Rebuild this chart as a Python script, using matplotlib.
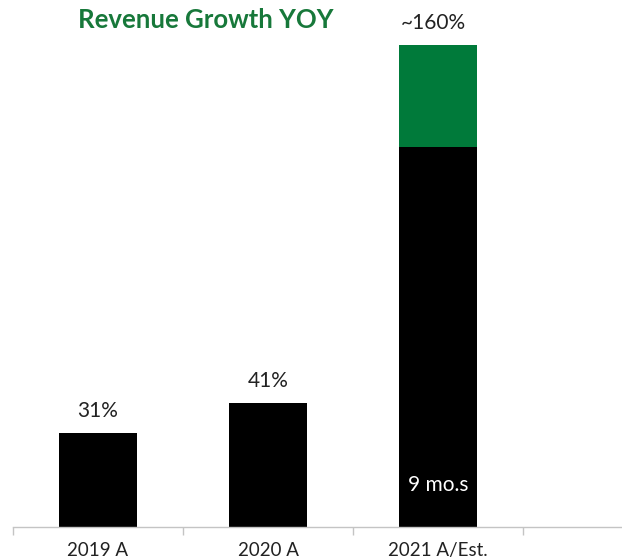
import matplotlib.pyplot as plt
from matplotlib.ticker import FixedLocator

# Revenue growth year over year (%)
years = ['2019 A', '2020 A', '2021 A/Est.']
growth = [31, 41, 126]          # black part; 2021 is the first 9 months
growth_est = [0, 0, 34]         # green part; rest of 2021 estimate
labels = ['31%', '41%', '~160%']

GREEN = '#007a3a'
TITLE_GREEN = '#17783a'

plt.rcParams['font.family'] = ['Lato', 'DejaVu Sans']

fig = plt.figure(figsize=(6.22, 5.6), dpi=100)
ax = fig.add_axes([13 / 622, 33.3 / 560, 609 / 622, 526.7 / 560])

x = list(range(len(years)))
ax.bar(x, growth, width=0.46, color='black', zorder=2)
ax.bar(x, growth_est, width=0.46, bottom=growth, color=GREEN, zorder=2)

for i, lab in enumerate(labels):
    top = growth[i] + growth_est[i]
    ax.text(i - 0.03 * (i == 2), top + 4, lab, ha='center', va='bottom',
            fontsize=15, color='#222222')

ax.text(2, 14, '9 mo.s', ha='center', va='center', fontsize=15, color='white', zorder=3)

ax.set_xlim(-0.5, 3.08)
ax.set_ylim(0, 175)

for side in ['top', 'right', 'left']:
    ax.spines[side].set_visible(False)
ax.spines['bottom'].set_color('#c4c4c4')
ax.spines['bottom'].set_linewidth(1.0)
ax.set_yticks([])

ax.set_xticks(x)
ax.set_xticklabels(years, fontsize=13.5, color='#222222')
ax.tick_params(axis='x', which='major', length=0, pad=11)
ax.xaxis.set_minor_locator(FixedLocator([-0.5, 0.5, 1.5, 2.5]))
ax.tick_params(axis='x', which='minor', length=6, color='#c4c4c4', width=1.0)

fig.text(78 / 622, 1 - 28 / 560, 'Revenue Growth YOY', ha='left', va='baseline',
         fontsize=18.5, fontweight='bold', color=TITLE_GREEN)

fig.savefig('out.png', dpi=100)
